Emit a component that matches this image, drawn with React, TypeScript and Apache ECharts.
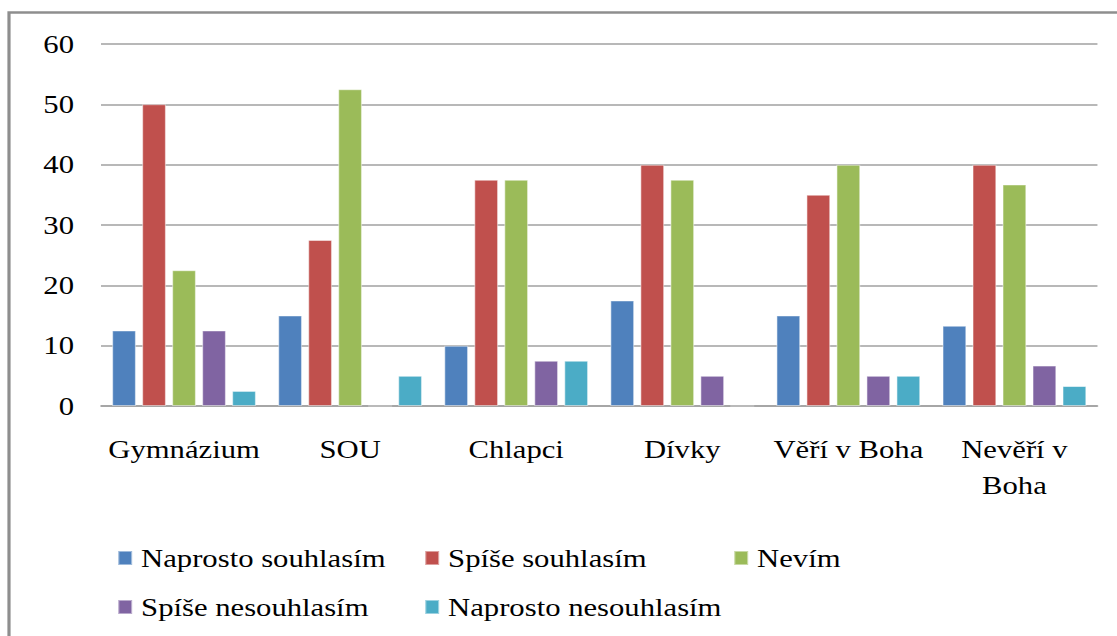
import React, { useEffect, useRef } from "react";
import * as echarts from "echarts";

const categories = ["Gymnázium", "SOU", "Chlapci", "Dívky", "Věří v Boha", "Nevěří v Boha"];
const seriesNames = [
  "Naprosto souhlasím",
  "Spíše souhlasím",
  "Nevím",
  "Spíše nesouhlasím",
  "Naprosto nesouhlasím",
];
const naprostoSouhlasim = [12.5, 15, 10, 17.5, 15, 13.3];
const spiseSouhlasim = [50, 27.5, 37.5, 40, 35, 40];
const nevim = [22.5, 52.5, 37.5, 37.5, 40, 36.7];
const spiseNesouhlasim = [12.5, 0, 7.5, 5, 5, 6.7];
const naprostoNesouhlasim = [2.5, 5, 7.5, 0, 5, 3.3];
const yTicks = [0, 10, 20, 30, 40, 50, 60];

const colors = ["#4F81BD", "#C0504D", "#9BBB59", "#8064A2", "#4BACC6"];
const values = [naprostoSouhlasim, spiseSouhlasim, nevim, spiseNesouhlasim, naprostoNesouhlasim];
const FONT = "Liberation Serif";

// The reference is a horizontally stretched picture; reproduce the stretch.
const SX = 1.18;
const W = 1117 / SX;
const px = (v: number) => v / SX;

export default function App() {
  const ref = useRef<HTMLDivElement>(null);
  useEffect(() => {
    if (!ref.current) return;
    const chart = echarts.init(ref.current, null, { renderer: "svg" });
    const legendPos = [
      { left: px(117), top: 545 },
      { left: px(424), top: 545 },
      { left: px(733), top: 545 },
      { left: px(117), top: 594 },
      { left: px(424), top: 594 },
    ];
    chart.setOption({
      animation: false,
      backgroundColor: "#ffffff",
      textStyle: { fontFamily: FONT },
      grid: { left: px(101), right: px(20), top: 44, bottom: 230, containLabel: false },
      graphic: [
        {
          type: "rect",
          shape: { x: px(9), y: 12.5, width: 1200, height: 700 },
          style: { fill: "none", stroke: "#8e8e8e", lineWidth: 2.7 },
          z: 10,
        },
      ],
      legend: seriesNames.map((n, i) => ({
        data: [n],
        left: legendPos[i].left,
        top: legendPos[i].top,
        padding: 0,
        icon: "rect",
        itemWidth: px(14),
        itemHeight: 14,
        selectedMode: false,
        textStyle: {
          fontFamily: FONT,
          fontSize: 26,
          color: "#000",
          padding: [0, 0, 0, px(3)],
        },
      })),
      xAxis: {
        type: "category",
        data: categories,
        axisLine: { show: true, lineStyle: { color: "#a0a0a0", width: 1.5 } },
        axisTick: { show: false },
        axisLabel: {
          fontFamily: FONT,
          fontSize: 26,
          color: "#000",
          margin: 25,
          lineHeight: 36,
          interval: 0,
          formatter: (v: string) => v.replace("Nevěří v ", "Nevěří v\n"),
        },
      },
      yAxis: {
        type: "value",
        min: yTicks[0],
        max: yTicks[yTicks.length - 1],
        interval: 10,
        axisLine: { show: false },
        axisTick: { show: false },
        splitLine: { show: true, lineStyle: { color: "#a0a0a0", width: 1.5 } },
        axisLabel: {
          fontFamily: FONT,
          fontSize: 26,
          color: "#000",
          margin: px(27),
        },
      },
      series: seriesNames.map((n, i) => ({
        name: n,
        type: "bar",
        data: values[i],
        barWidth: px(24),
        barGap: "25%",
        itemStyle: {
          color: colors[i],
          borderColor: "rgba(255,255,255,0.45)",
          borderWidth: 1,
        },
      })),
    });
    return () => chart.dispose();
  }, []);
  return (
    <div style={{ position: "fixed", left: 0, top: 0, width: 1117, height: 636, overflow: "hidden", background: "#fff" }}>
      <div
        ref={ref}
        style={{
          position: "absolute",
          left: 0,
          top: 0,
          width: W,
          height: 636,
          transform: `scaleX(${SX})`,
          transformOrigin: "0 0",
        }}
      />
    </div>
  );
}
